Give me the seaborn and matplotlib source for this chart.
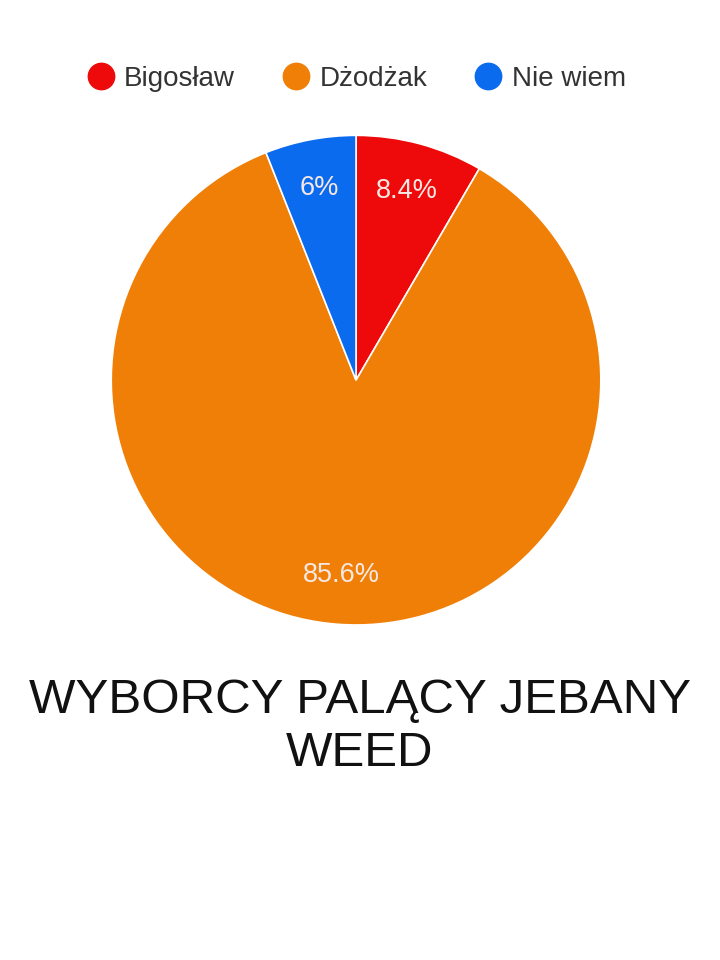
import numpy as np
import matplotlib.pyplot as plt
import seaborn as sns
from matplotlib.lines import Line2D

labels = ['Bigosław', 'Dżodżak', 'Nie wiem']
shares = [8.4, 85.6, 6.0]
pct_labels = ['8.4%', '85.6%', '6%']
colors = ['#EE0A0A', '#F07F07', '#0B6BEF']

sns.set_theme(style="white")
plt.rcParams['font.family'] = ['Liberation Sans', 'DejaVu Sans']

fig = plt.figure(figsize=(7.2, 9.6), dpi=100)
ax = fig.add_axes([0.154, 0.349, 0.681, 0.510])

wedges, _ = ax.pie(shares, colors=colors, startangle=90, counterclock=False,
                   wedgeprops=dict(edgecolor='white', linewidth=1.2))
ax.set_xlim(-1.0, 1.0)
ax.set_ylim(-1.0, 1.0)
ax.set_aspect('equal')

# percentage labels inside the slices
for w, txt in zip(wedges, pct_labels):
    ang = np.deg2rad((w.theta1 + w.theta2) / 2)
    r = 0.8
    ax.text(r * np.cos(ang), r * np.sin(ang), txt, ha='center', va='center',
            color='#F6E8E4', fontsize=19.5)

# legend on top
handles = [Line2D([0], [0], marker='o', linestyle='', markersize=19,
                  markerfacecolor=c, markeredgecolor=c) for c in colors]
fig.legend(handles, labels, loc='center', bbox_to_anchor=(0.493, 0.918), ncol=3,
           frameon=False, fontsize=20, handlelength=1.2, handletextpad=0.24,
           columnspacing=1.6, labelcolor='#333333')

fig.text(0.5, 0.243, 'WYBORCY PALĄCY JEBANY\nWEED', ha='center', va='center',
         fontsize=35.5, color='#111111', linespacing=1.22)

plt.savefig('out.png', dpi=100, facecolor='white')
